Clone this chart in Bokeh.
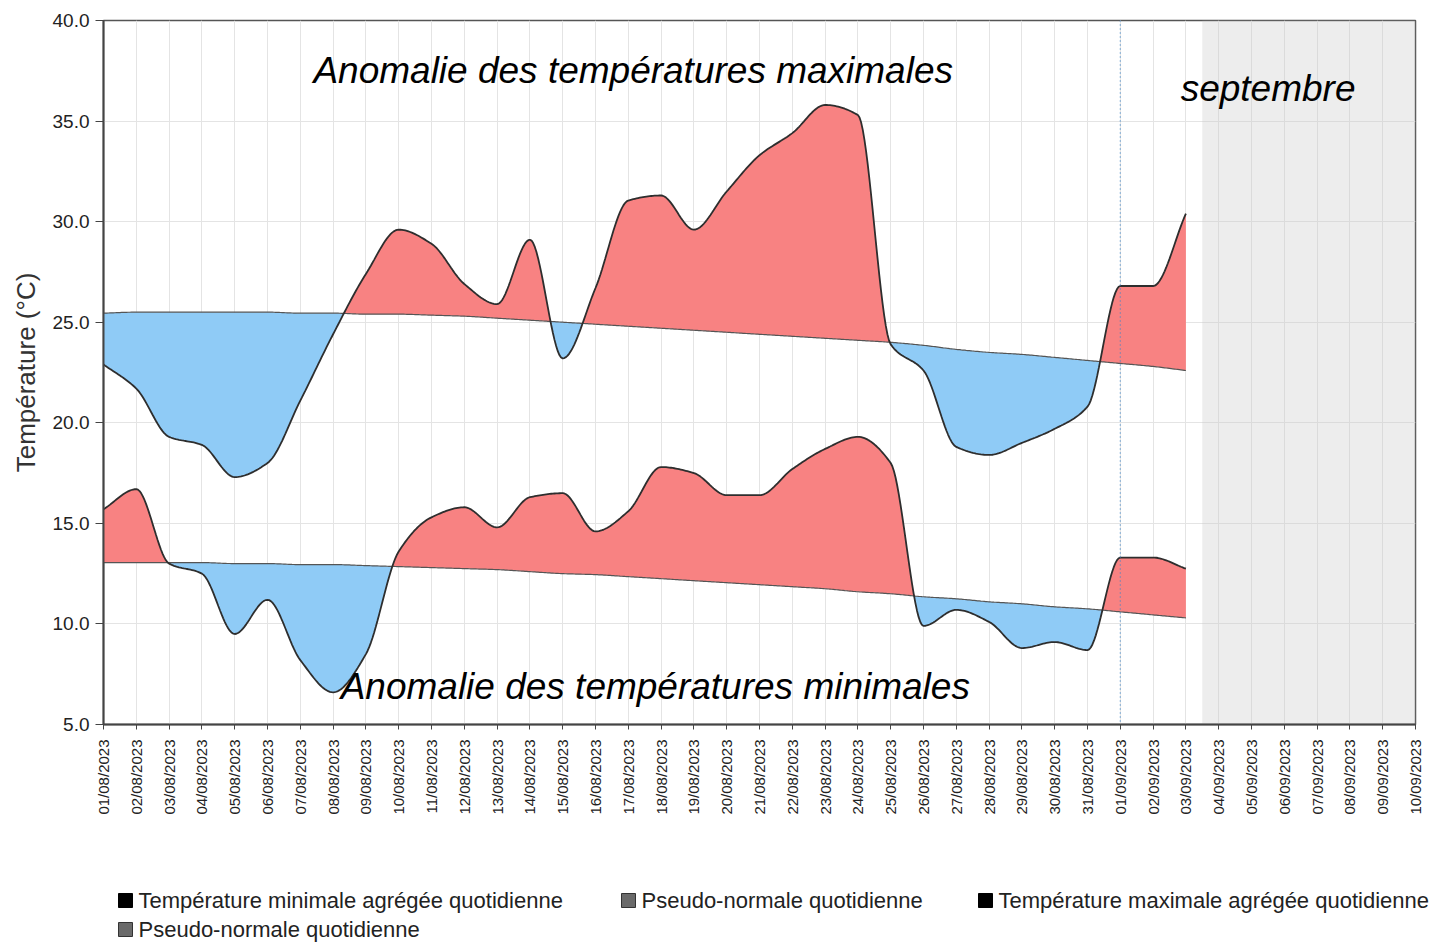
import numpy as np
from bokeh.plotting import figure
from bokeh.layouts import column
from bokeh.models import (FixedTicker, NumeralTickFormatter, BoxAnnotation, Span, Label, Range1d)
from bokeh.core.properties import value
from bokeh.embed import file_html
from bokeh.resources import INLINE

# ---------------- data ----------------
dates = ["01/08/2023", "02/08/2023", "03/08/2023", "04/08/2023", "05/08/2023", "06/08/2023",
         "07/08/2023", "08/08/2023", "09/08/2023", "10/08/2023", "11/08/2023", "12/08/2023",
         "13/08/2023", "14/08/2023", "15/08/2023", "16/08/2023", "17/08/2023", "18/08/2023",
         "19/08/2023", "20/08/2023", "21/08/2023", "22/08/2023", "23/08/2023", "24/08/2023",
         "25/08/2023", "26/08/2023", "27/08/2023", "28/08/2023", "29/08/2023", "30/08/2023",
         "31/08/2023", "01/09/2023", "02/09/2023", "03/09/2023", "04/09/2023", "05/09/2023",
         "06/09/2023", "07/09/2023", "08/09/2023", "09/09/2023", "10/09/2023"]

tmax = [22.9, 21.7, 19.3, 18.9, 17.3, 18.0, 21.1, 24.4, 27.4, 29.6, 28.9, 26.9, 25.9, 29.1,
        23.2, 26.7, 31.05, 31.3, 29.6, 31.5, 33.3, 34.4, 35.8, 35.3, 23.9, 22.6, 18.8, 18.4,
        19.0, 19.7, 20.8, 26.8, 26.8, 30.4]
tmax_normal = [25.45, 25.5, 25.5, 25.5, 25.5, 25.5, 25.45, 25.45, 25.4, 25.4, 25.35, 25.3,
               25.2, 25.1, 25.0, 24.9, 24.8, 24.7, 24.6, 24.5, 24.4, 24.3, 24.2, 24.1, 24.0,
               23.85, 23.65, 23.5, 23.4, 23.25, 23.1, 22.95, 22.8, 22.6]
tmin = [15.7, 16.7, 13.0, 12.5, 9.5, 11.2, 8.2, 6.6, 8.5, 13.6, 15.3, 15.8, 14.8, 16.3, 16.5,
        14.6, 15.6, 17.8, 17.5, 16.4, 16.4, 17.7, 18.7, 19.3, 18.0, 9.9, 10.7, 10.1, 8.8, 9.1,
        8.7, 13.3, 13.3, 12.75]
tmin_normal = [13.05, 13.05, 13.05, 13.05, 13.0, 13.0, 12.95, 12.95, 12.9, 12.85, 12.8, 12.75,
               12.7, 12.6, 12.5, 12.45, 12.35, 12.25, 12.15, 12.05, 11.95, 11.85, 11.75, 11.6,
               11.5, 11.35, 11.25, 11.1, 11.0, 10.85, 10.75, 10.6, 10.45, 10.3]

y_ticks = [5, 10, 15, 20, 25, 30, 35, 40]

legend_labels = ["Température minimale agrégée quotidienne", "Pseudo-normale quotidienne",
                 "Température maximale agrégée quotidienne", "Pseudo-normale quotidienne"]
legend_colors = ["black", "#6a6a6a", "black", "#6a6a6a"]

RED = "#F88282"
BLUE = "#8FCBF6"
FONT = "Liberation Sans"


def smooth(xv, yv, n=20):
    """Monotone cubic (Fritsch-Carlson) curve through the data points, for drawing."""
    x = np.asarray(xv, float)
    y = np.asarray(yv, float)
    h = np.diff(x)
    d = np.diff(y) / h
    m = np.zeros_like(y)
    m[0], m[-1] = d[0], d[-1]
    for k in range(1, len(y) - 1):
        if d[k - 1] * d[k] <= 0:
            m[k] = 0.0
        else:
            w1 = 2 * h[k] + h[k - 1]
            w2 = h[k] + 2 * h[k - 1]
            m[k] = (w1 + w2) / (w1 / d[k - 1] + w2 / d[k])
    xs, ys = [], []
    t = np.linspace(0, 1, n, endpoint=False)
    for k in range(len(x) - 1):
        h00 = 2 * t**3 - 3 * t**2 + 1
        h10 = t**3 - 2 * t**2 + t
        h01 = -2 * t**3 + 3 * t**2
        h11 = t**3 - t**2
        xs.append(x[k] + t * h[k])
        ys.append(h00 * y[k] + h10 * h[k] * m[k] + h01 * y[k + 1] + h11 * h[k] * m[k + 1])
    xs.append([x[-1]])
    ys.append([y[-1]])
    return np.concatenate(xs), np.concatenate(ys)


days = list(range(len(tmax)))

p = figure(frame_width=1312, frame_height=704, output_backend="svg", toolbar_location=None,
           x_range=Range1d(0, 40), y_range=Range1d(5, 40),
           min_border_left=103, min_border_right=15, min_border_top=20, min_border_bottom=115)
p.background_fill_color = "white"
p.border_fill_color = "white"
p.outline_line_color = "#555555"
p.outline_line_width = 1.5

# grey future region
p.add_layout(BoxAnnotation(left=33.5, right=40, fill_color="#c8c8c8", fill_alpha=0.33,
                           line_alpha=0, level="underlay"))

for actual, normal in ((tmax, tmax_normal), (tmin, tmin_normal)):
    xs, ya = smooth(days, actual)
    _, yn = smooth(days, normal)
    p.varea(x=xs, y1=yn, y2=np.maximum(ya, yn), fill_color=RED)
    p.varea(x=xs, y1=np.minimum(ya, yn), y2=yn, fill_color=BLUE)
    p.line(xs, yn, line_color="#555555", line_width=1.2)
    p.line(xs, ya, line_color="#2e2e2e", line_width=1.8)

# separation between months
p.add_layout(Span(location=31, dimension="height", line_color="#3f86c8", line_width=1.2,
                  line_dash="1 3"))

# texts
p.add_layout(Label(x=6.40, y=37.52, text="Anomalie des températures maximales",
                   text_font=FONT, text_font_style="italic", text_font_size="37px",
                   text_color="black", text_baseline="alphabetic"))
p.add_layout(Label(x=7.23, y=6.89, text="Anomalie des températures minimales",
                   text_font=FONT, text_font_style="italic", text_font_size="37px",
                   text_color="black", text_baseline="alphabetic"))
p.add_layout(Label(x=32.84, y=36.62, text="septembre",
                   text_font=FONT, text_font_style="italic", text_font_size="37px",
                   text_color="black", text_baseline="alphabetic"))

# axes
p.xaxis.ticker = FixedTicker(ticks=list(range(len(dates))))
p.xaxis.major_label_overrides = {i: d for i, d in enumerate(dates)}
p.xaxis.major_label_orientation = np.pi / 2
p.xaxis.major_label_text_font = FONT
p.xaxis.major_label_text_font_size = "15px"
p.xaxis.major_label_text_color = "#222222"
p.xaxis.major_label_standoff = 10
p.yaxis.ticker = FixedTicker(ticks=y_ticks)
p.yaxis.formatter = NumeralTickFormatter(format="0.0")
p.yaxis.major_label_text_font = FONT
p.yaxis.major_label_text_font_size = "19px"
p.yaxis.major_label_text_color = "#222222"
p.yaxis.major_label_standoff = 6
p.yaxis.axis_label = "Température (°C)"
p.yaxis.axis_label_text_font = FONT
p.yaxis.axis_label_text_font_style = "normal"
p.yaxis.axis_label_text_font_size = "26px"
p.yaxis.axis_label_text_color = "#333333"
p.yaxis.axis_label_standoff = 9
for ax in (p.xaxis, p.yaxis):
    ax.axis_line_color = "#444444"
    ax.axis_line_width = 2
    ax.major_tick_line_color = "#444444"
    ax.major_tick_in = 0
    ax.minor_tick_line_color = None
p.xaxis.major_tick_out = 5
p.yaxis.major_tick_out = 8
p.xgrid.ticker = FixedTicker(ticks=list(range(len(dates))))
p.grid.grid_line_color = "#e4e4e4"
p.grid.grid_line_width = 1

# ---------------- legend (separate strip under the chart, page-pixel coordinates) ----------------
LEG_TOP = 20 + 704 + 115
LEG_H = 943 - LEG_TOP
lg = figure(frame_width=1327, frame_height=LEG_H, output_backend="svg", toolbar_location=None,
            x_range=Range1d(103, 1430), y_range=Range1d(LEG_TOP + LEG_H, LEG_TOP),
            min_border_left=103, min_border_right=0, min_border_top=0, min_border_bottom=0)
lg.axis.visible = False
lg.grid.visible = False
lg.outline_line_color = None
lg.background_fill_color = "white"
lg.border_fill_color = "white"
sq_x = [125, 628, 985, 125]
sq_y = [900, 900, 900, 929]
lg.scatter(x=sq_x, y=sq_y, marker="square", size=14, fill_color=legend_colors,
           line_color=["black", "#333333", "black", "#333333"], line_width=1)
lg.text(x=[x + 13 for x in sq_x], y=sq_y, text=legend_labels, text_font=value(FONT),
        text_font_size=value("22px"), text_color="#222222", text_baseline="middle",
        text_align="left")

layout = column(p, lg, spacing=0)
open("out.html", "w").write(file_html(layout, INLINE))
